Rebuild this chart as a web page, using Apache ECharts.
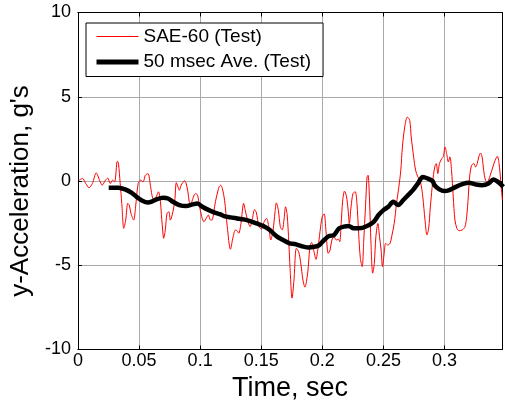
<!DOCTYPE html>
<html>
<head>
<meta charset="utf-8">
<script src="https://cdn.jsdelivr.net/npm/echarts@6/dist/echarts.min.js"></script>
<style>
html,body{margin:0;padding:0;background:#fff;}
#chart{width:505px;height:409px;}
</style>
</head>
<body>
<div id="chart"></div>
<script>
// SAE-60 (Test) filtered acceleration
var redT = [0.0010,0.0038,0.0064,0.0091,0.0118,0.0150,0.0177,0.0199,0.0225,0.0244,0.0265,0.0284,0.0300,0.0319,0.0324,0.0332,0.0346,0.0359,0.0375,0.0391,0.0408,0.0420,0.0434,0.0456,0.0472,0.0493,0.0514,0.0533,0.0552,0.0573,0.0595,0.0611,0.0627,0.0643,0.0659,0.0675,0.0683,0.0697,0.0701,0.0715,0.0729,0.0745,0.0756,0.0772,0.0792,0.0805,0.0817,0.0830,0.0844,0.0858,0.0872,0.0884,0.0900,0.0911,0.0922,0.0938,0.0951,0.0965,0.0981,0.0994,0.1013,0.1031,0.1051,0.1067,0.1085,0.1099,0.1112,0.1125,0.1147,0.1155,0.1168,0.1182,0.1200,0.1222,0.1248,0.1270,0.1289,0.1302,0.1316,0.1334,0.1356,0.1369,0.1388,0.1409,0.1428,0.1445,0.1459,0.1482,0.1503,0.1522,0.1543,0.1562,0.1578,0.1597,0.1613,0.1624,0.1640,0.1656,0.1672,0.1686,0.1699,0.1712,0.1726,0.1736,0.1752,0.1768,0.1787,0.1806,0.1823,0.1841,0.1857,0.1881,0.1897,0.1912,0.1932,0.1948,0.1964,0.1981,0.1999,0.2015,0.2030,0.2048,0.2063,0.2078,0.2096,0.2114,0.2130,0.2142,0.2154,0.2166,0.2181,0.2197,0.2211,0.2221,0.2235,0.2251,0.2269,0.2283,0.2297,0.2311,0.2326,0.2339,0.2353,0.2366,0.2374,0.2385,0.2398,0.2412,0.2425,0.2438,0.2454,0.2468,0.2481,0.2492,0.2506,0.2518,0.2535,0.2554,0.2567,0.2588,0.2607,0.2626,0.2642,0.2655,0.2674,0.2695,0.2715,0.2727,0.2747,0.2763,0.2781,0.2803,0.2822,0.2840,0.2856,0.2870,0.2883,0.2898,0.2910,0.2922,0.2932,0.2945,0.2958,0.2977,0.2990,0.3004,0.3017,0.3031,0.3044,0.3057,0.3071,0.3085,0.3101,0.3119,0.3145,0.3167,0.3181,0.3194,0.3205,0.3221,0.3240,0.3254,0.3267,0.3280,0.3294,0.3307,0.3320,0.3334,0.3347,0.3360,0.3374,0.3395,0.3414,0.3432,0.3446,0.3459,0.3473];
var redY = [0.05,0.15,-0.15,-0.4,-0.15,0.48,0.05,-0.25,0.05,0.17,-0.15,0.05,-0.05,1.13,1.17,1.03,-0.15,-1.33,-2.81,-2.32,-1.33,-1.43,-1.92,-2.32,-1.53,-0.15,0.05,-0.05,0.34,0.44,-0.35,-1.0,-1.14,-0.9,-0.64,-1.2,-2.0,-3.2,-3.4,-2.9,-1.92,-1.83,-2.32,-2.0,-1.2,-0.1,-0.3,-0.55,-0.25,-0.1,0.02,-0.1,-0.64,-1.23,-1.4,-1.1,-0.84,-0.74,-0.9,-1.45,-2.12,-2.42,-2.2,-2.02,-2.32,-2.3,-1.83,-1.23,-0.54,-0.35,-0.25,-0.45,-1.14,-2.71,-4.05,-3.31,-2.91,-2.95,-3.1,-2.52,-1.33,-1.73,-2.32,-2.71,-2.22,-1.69,-1.85,-2.71,-2.85,-2.45,-2.22,-2.71,-3.5,-2.91,-1.83,-1.3,-1.73,-2.71,-2.9,-2.32,-1.53,-2.0,-3.7,-5.2,-6.95,-5.87,-4.0,-4.2,-4.85,-5.87,-6.3,-5.4,-4.0,-3.65,-4.2,-4.65,-4.0,-3.0,-2.12,-1.95,-3.0,-4.29,-4.1,-3.5,-3.31,-3.5,-3.45,-3.6,-2.52,-1.2,-0.6,-0.9,-1.73,-2.52,-1.53,-0.74,-0.64,-1.33,-3.1,-4.6,-5.08,-3.5,-1.53,0.24,0.34,-0.94,-3.7,-5.47,-4.9,-3.31,-2.52,-3.31,-4.1,-5.08,-4.3,-3.7,-3.8,-3.7,-3.31,-2.52,-1.33,-0.35,0.64,2.02,3.2,3.79,3.6,2.61,1.43,0.64,0.25,-0.05,-0.94,-2.32,-3.2,-2.8,-1.6,-0.4,0.4,0.9,1.03,0.44,1.03,1.33,1.45,2.02,1.63,1.13,1.43,0.64,-0.94,-2.32,-2.81,-2.95,-2.9,-2.71,-2.12,-0.94,0.24,0.93,1.03,0.83,1.03,1.43,1.66,1.43,0.64,0.05,-0.05,0.05,0.34,0.83,1.23,1.47,1.03,0.05,-1.14];
// 50 msec Ave. (Test)
var aveT = [0.0252,0.0332,0.0386,0.0440,0.0480,0.0520,0.0573,0.0603,0.0643,0.0697,0.0737,0.0777,0.0830,0.0884,0.0938,0.0978,0.1018,0.1072,0.1125,0.1166,0.1195,0.1248,0.1302,0.1356,0.1409,0.1463,0.1517,0.1570,0.1624,0.1678,0.1731,0.1774,0.1827,0.1881,0.1935,0.1975,0.2015,0.2055,0.2096,0.2136,0.2176,0.2216,0.2256,0.2299,0.2366,0.2420,0.2460,0.2500,0.2540,0.2580,0.2621,0.2661,0.2701,0.2741,0.2781,0.2822,0.2862,0.2902,0.2918,0.2958,0.2998,0.3039,0.3092,0.3145,0.3199,0.3253,0.3306,0.3360,0.3400,0.3427,0.3454,0.3481];
var aveY = [-0.4,-0.4,-0.5,-0.7,-0.94,-1.14,-1.28,-1.23,-1.09,-1.0,-1.04,-1.23,-1.43,-1.49,-1.39,-1.33,-1.53,-1.73,-1.89,-1.98,-2.08,-2.16,-2.22,-2.28,-2.38,-2.52,-2.67,-2.91,-3.27,-3.5,-3.7,-3.74,-3.86,-3.94,-3.9,-3.8,-3.5,-3.27,-3.2,-2.81,-2.71,-2.67,-2.81,-2.81,-2.67,-2.42,-2.02,-1.73,-1.53,-1.23,-1.43,-1.14,-0.84,-0.54,-0.15,0.24,0.15,-0.01,-0.25,-0.5,-0.6,-0.54,-0.35,-0.19,-0.11,-0.2,-0.25,-0.15,0.09,0.0,-0.15,-0.35];
var seriesNames = ['SAE-60 (Test)', '50 msec Ave. (Test)'];
var xTitle = 'Time, sec';
var yTitle = "y-Acceleration, g's";

function zip(a, b) { return a.map(function (v, i) { return [v, b[i]]; }); }

var FONT = 'Liberation Sans, Arial, sans-serif';
var chart = echarts.init(document.getElementById('chart'), null, {renderer: 'canvas'});

function xFmt(v) {
  if (v > 0.32) return '';
  var k = v / 0.05;
  if (Math.abs(k - Math.round(k)) > 1e-6) return '';
  return String(+v.toFixed(2));
}

var option = {
  animation: false,
  backgroundColor: '#ffffff',
  grid: {left: 72, top: 12.5, right: 1.5, bottom: 59.5, show: false},
  legend: {
    show: true,
    orient: 'vertical',
    left: 86, top: 23,
    padding: [4, 12, 5, 8],
    itemWidth: 42, itemHeight: 19, itemGap: 6.5,
    backgroundColor: '#ffffff',
    borderColor: '#000000', borderWidth: 1, borderRadius: 0,
    itemStyle: {opacity: 0},
    textStyle: {fontFamily: FONT, fontSize: 19, color: '#000'},
    data: [
      {name: seriesNames[0], lineStyle: {width: 1}},
      {name: seriesNames[1], lineStyle: {width: 5}}
    ]
  },
  xAxis: [{
    type: 'value', min: 0, max: 0.347, interval: 0.05,
    name: xTitle, nameLocation: 'middle', nameGap: 26,
    nameTextStyle: {fontFamily: FONT, fontSize: 27, color: '#000'},
    axisLine: {show: true, onZero: false, lineStyle: {color: '#000', width: 1}},
    axisTick: {show: true, inside: true, length: 4, lineStyle: {color: '#000'}},
    axisLabel: {fontFamily: FONT, fontSize: 18, color: '#000', margin: 3, formatter: xFmt},
    splitLine: {show: true, lineStyle: {color: '#aaaaaa', width: 1}}
  }, {
    type: 'value', position: 'top', min: 0, max: 0.347, interval: 0.05,
    axisLine: {show: true, onZero: false, lineStyle: {color: '#000', width: 1}},
    axisTick: {show: true, inside: true, length: 4, lineStyle: {color: '#000'}},
    axisLabel: {show: false}, splitLine: {show: false}
  }],
  yAxis: [{
    type: 'value', min: -10, max: 10, interval: 5,
    name: yTitle, nameLocation: 'middle', nameGap: 37, nameRotate: 90,
    nameTextStyle: {fontFamily: FONT, fontSize: 26, color: '#000', padding: [0, 20, 0, 0]},
    axisLine: {show: true, onZero: false, lineStyle: {color: '#000', width: 1}},
    axisTick: {show: true, inside: true, length: 4, lineStyle: {color: '#000'}},
    axisLabel: {fontFamily: FONT, fontSize: 18, color: '#000', margin: 7},
    splitLine: {show: true, lineStyle: {color: '#aaaaaa', width: 1}}
  }, {
    type: 'value', position: 'right', min: -10, max: 10, interval: 5,
    axisLine: {show: true, onZero: false, lineStyle: {color: '#000', width: 1}},
    axisTick: {show: true, inside: true, length: 4, lineStyle: {color: '#000'}},
    axisLabel: {show: false}, splitLine: {show: false}
  }],
  series: [{
    name: seriesNames[0], type: 'line', symbol: 'none', smooth: 0.3,
    data: zip(redT, redY),
    lineStyle: {color: '#ff0000', width: 1}, itemStyle: {color: '#ff0000'}, z: 2
  }, {
    name: seriesNames[1], type: 'line', symbol: 'none', smooth: 0.3,
    data: zip(aveT, aveY),
    lineStyle: {color: '#000000', width: 4.5}, itemStyle: {color: '#000000'}, z: 3
  }]
};
chart.setOption(option);
</script>
</body>
</html>
